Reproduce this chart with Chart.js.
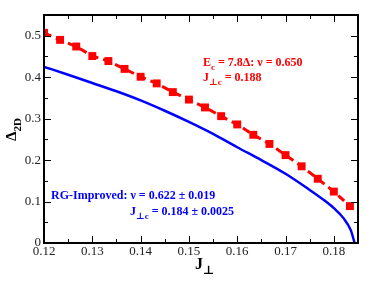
<!DOCTYPE html>
<html>
<head>
<meta charset="utf-8">
<script src="https://cdn.jsdelivr.net/npm/chart.js@4.4.1/dist/chart.umd.min.js"></script>
<style>
  html, body { margin: 0; padding: 0; background: #fff; }
  #wrap { width: 374px; height: 289px; }
</style>
</head>
<body>
<div id="wrap"><canvas id="chart"></canvas></div>
<script>
// E_c = 7.8 Delta data (red squares)
const redJ = [0.12, 0.12333, 0.12667, 0.13, 0.13333, 0.13667, 0.14, 0.14333, 0.14667, 0.15,
              0.15333, 0.15667, 0.16, 0.16333, 0.16667, 0.17, 0.17333, 0.17667, 0.18, 0.18333];
const redGap = [0.507, 0.490, 0.474, 0.451, 0.439, 0.420, 0.401, 0.385, 0.364, 0.346,
                0.327, 0.306, 0.286, 0.261, 0.239, 0.212, 0.185, 0.155, 0.124, 0.089];

// RG-improved curve (blue)
const blueJ = [0.12, 0.125, 0.13, 0.135, 0.14, 0.145, 0.15, 0.155, 0.16, 0.165,
               0.17, 0.175, 0.178, 0.18, 0.182, 0.1835, 0.1843];
const blueGap = [0.425, 0.406, 0.386, 0.366, 0.344, 0.319, 0.292, 0.263, 0.231, 0.200,
                 0.167, 0.128, 0.103, 0.084, 0.060, 0.031, 0.0];

const xLabels = ['0.12', '0.13', '0.14', '0.15', '0.16', '0.17', '0.18'];
const yLabels = ['0', '0.1', '0.2', '0.3', '0.4', '0.5'];

const SERIF = '"Liberation Serif", "DejaVu Serif", serif';

function pairs(xs, ys) {
    return xs.map((x, i) => ({ x: x, y: ys[i] }));
}

// draw a run of text pieces, some of them as subscripts
function drawRich(ctx, x, y, parts, size, color) {
    ctx.fillStyle = color;
    ctx.textBaseline = 'alphabetic';
    ctx.textAlign = 'left';
    parts.forEach(p => {
        const sub = p[1];
        const fs = sub ? Math.round(size * 0.72) : size;
        ctx.font = 'bold ' + fs + 'px ' + SERIF;
        ctx.fillText(p[0], x, y + (sub ? size * 0.3 : 0));
        x += ctx.measureText(p[0]).width;
    });
}

const framePlugin = {
    id: 'frame',
    afterDraw(chart) {
        const ctx = chart.ctx;
        const a = chart.chartArea;
        const xs = chart.scales.x, ys = chart.scales.y;
        ctx.save();
        ctx.strokeStyle = '#000';
        ctx.lineWidth = 1;
        // inward ticks on all four sides
        xs.ticks.forEach(t => {
            const px = Math.round(xs.getPixelForValue(t.value)) + 0.5;
            const len = t.label !== '' ? 7 : 4;
            ctx.beginPath();
            ctx.moveTo(px, a.bottom); ctx.lineTo(px, a.bottom - len);
            ctx.moveTo(px, a.top); ctx.lineTo(px, a.top + len);
            ctx.stroke();
        });
        ys.ticks.forEach(t => {
            const py = Math.round(ys.getPixelForValue(t.value)) + 0.5;
            const len = t.label !== '' ? 7 : 4;
            ctx.beginPath();
            ctx.moveTo(a.left, py); ctx.lineTo(a.left + len, py);
            ctx.moveTo(a.right, py); ctx.lineTo(a.right - len, py);
            ctx.stroke();
        });
        ctx.lineWidth = 2;
        ctx.strokeRect(a.left, a.top, a.right - a.left, a.bottom - a.top);

        // annotations
        drawRich(ctx, 203, 66, [['E', 0], ['c', 1], [' = 7.8\u0394: \u03bd = 0.650', 0]], 12, '#ff0000');
        drawRich(ctx, 203, 81, [['J', 0], ['\u22a5c', 1], [' = 0.188', 0]], 12, '#ff0000');
        drawRich(ctx, 51, 199, [['RG-Improved: \u03bd = 0.622 \u00b1 0.019', 0]], 12, '#0000ff');
        drawRich(ctx, 130, 215, [['J', 0], ['\u22a5c', 1], [' = 0.184 \u00b1 0.0025', 0]], 12, '#0000ff');

        // axis titles
        drawRich(ctx, 195, 269, [['J', 0], ['\u22a5', 1]], 16, '#000');
        ctx.translate(16, 141);
        ctx.rotate(-Math.PI / 2);
        drawRich(ctx, 0, 0, [['\u0394', 0], ['2D', 1]], 15, '#000');
        ctx.restore();
    }
};

new Chart(document.getElementById('chart'), {
    type: 'scatter',
    data: {
        datasets: [
            {
                data: pairs(blueJ, blueGap),
                showLine: true,
                borderColor: '#0000ff',
                borderWidth: 2.5,
                pointRadius: 0,
                cubicInterpolationMode: 'monotone'
            },
            {
                data: pairs(redJ, redGap),
                showLine: true,
                borderColor: '#ff0000',
                borderWidth: 3,
                borderDash: [8, 5],
                pointStyle: 'rect',
                pointRadius: 5.6,
                pointBackgroundColor: '#ff0000',
                pointBorderColor: '#ff0000',
                pointBorderWidth: 0
            }
        ]
    },
    options: {
        responsive: true,
        maintainAspectRatio: false,
        animation: false,
        layout: { padding: { top: 15, right: 16, left: 0, bottom: 0 } },
        plugins: { legend: { display: false }, tooltip: { enabled: false } },
        scales: {
            x: {
                type: 'linear',
                min: 0.12,
                max: 0.185,
                grid: { display: false, drawTicks: false },
                border: { display: false },
                ticks: {
                    stepSize: 0.005,
                    padding: 1,
                    color: '#222',
                    font: { family: SERIF, size: 13 },
                    maxRotation: 0,
                    autoSkip: false,
                    callback: v => {
                        const s = (Math.round(v * 100) / 100).toString();
                        return Math.abs(v * 100 - Math.round(v * 100)) < 1e-6 && xLabels.includes(s) ? s : '';
                    }
                },
                afterFit: s => { s.height = 46; }
            },
            y: {
                min: 0,
                max: 0.55,
                grid: { display: false, drawTicks: false },
                border: { display: false },
                ticks: {
                    stepSize: 0.05,
                    padding: 3,
                    color: '#222',
                    font: { family: SERIF, size: 13 },
                    autoSkip: false,
                    callback: v => {
                        const s = (Math.round(v * 10) / 10).toString();
                        return Math.abs(v * 10 - Math.round(v * 10)) < 1e-6 && yLabels.includes(s) ? s : '';
                    }
                },
                afterFit: s => { s.width = 44; }
            }
        }
    },
    plugins: [framePlugin]
});
</script>
</body>
</html>
